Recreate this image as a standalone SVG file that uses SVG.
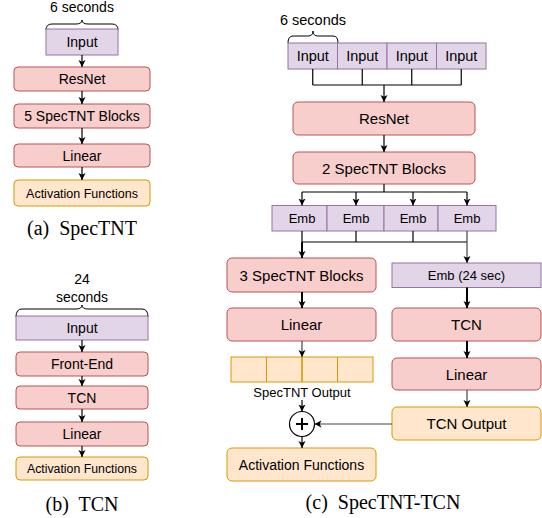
<svg xmlns="http://www.w3.org/2000/svg" width="542" height="518" viewBox="0 0 542 518">
<defs>
<marker id="ah" markerWidth="8" markerHeight="8" refX="7" refY="4" orient="auto" markerUnits="userSpaceOnUse">
<path d="M0,0.5 L7,4 L0,7.5 L1.8,4 Z" fill="#000"/>
</marker>
</defs>
<style>
.pk{fill:#f8cecc;stroke:#b85450;stroke-width:1}
.pu{fill:#e1d5e7;stroke:#9673a6;stroke-width:1}
.or{fill:#ffe6cc;stroke:#d79b00;stroke-width:1}
.t{font-family:"Liberation Sans",Arial,sans-serif;fill:#000;text-anchor:middle}
.cap{font-family:"Liberation Serif","Times New Roman",serif;font-size:20px;fill:#000;text-anchor:middle}
.ln{fill:none;stroke:#000;stroke-width:1.2}
.lb{fill:none;stroke:#000;stroke-width:2}
.lg{fill:none;stroke:#444;stroke-width:1.2}
.br{fill:none;stroke:#000;stroke-width:1}
</style>

<!-- Panel (a) -->
<g id="a-brace">
<text class="t" x="82" y="12" font-size="14">6 seconds</text>
<path class="br" d="M46,30 Q46,24 52,24 L76,24 Q82,24 82,20 Q82,24 88,24 L112,24 Q118,24 118,30"/>
</g>
<g id="a-input"><rect class="pu" x="46" y="29" width="72" height="26"/><text class="t" x="82" y="47" font-size="14">Input</text></g>
<g id="a-resnet"><rect class="pk" x="14" y="67" width="136" height="24" rx="4"/><text class="t" x="82" y="84" font-size="14">ResNet</text></g>
<g id="a-spectnt"><rect class="pk" x="14" y="104" width="136" height="24" rx="4"/><text class="t" x="82" y="121" font-size="14">5 SpecTNT Blocks</text></g>
<g id="a-linear"><rect class="pk" x="14" y="144" width="136" height="23" rx="4"/><text class="t" x="82" y="160.5" font-size="14">Linear</text></g>
<g id="a-act"><rect class="or" x="14" y="180" width="136" height="26" rx="4"/><text class="t" x="82" y="197.5" font-size="12.5">Activation Functions</text></g>
<text class="cap" x="82" y="235" xml:space="preserve">(a)  SpecTNT</text>

<!-- Panel (b) -->
<g id="b-brace">
<text class="t" x="82" y="284" font-size="14">24</text>
<text class="t" x="82" y="302" font-size="14">seconds</text>
<path class="br" d="M16,317 Q16,309 22,309 L76,309 Q82,309 82,305 Q82,309 88,309 L142,309 Q148,309 148,317"/>
</g>
<g id="b-input"><rect class="pu" x="16" y="316" width="132" height="24"/><text class="t" x="82" y="333" font-size="14">Input</text></g>
<g id="b-frontend"><rect class="pk" x="16" y="352" width="132" height="24" rx="4"/><text class="t" x="82" y="369" font-size="14">Front-End</text></g>
<g id="b-tcn"><rect class="pk" x="16" y="386" width="132" height="23" rx="4"/><text class="t" x="82" y="402.5" font-size="14">TCN</text></g>
<g id="b-linear"><rect class="pk" x="16" y="422" width="132" height="24" rx="4"/><text class="t" x="82" y="439" font-size="14">Linear</text></g>
<g id="b-act"><rect class="or" x="16" y="457" width="132" height="23" rx="4"/><text class="t" x="82" y="473" font-size="12.3">Activation Functions</text></g>
<text class="cap" x="82" y="511" xml:space="preserve">(b)  TCN</text>

<!-- Panel (c) -->
<g id="c-brace">
<text class="t" x="313" y="25" font-size="14.5">6 seconds</text>
<path class="br" d="M288,43 Q288,36 293,36 L308,36 Q313,36 313,31 Q313,36 318,36 L333,36 Q338,36 338,43"/>
</g>
<g id="c-input1"><rect class="pu" x="288" y="43" width="49.5" height="26"/><text class="t" x="312.75" y="61" font-size="14.5">Input</text></g>
<g id="c-input2"><rect class="pu" x="337.5" y="43" width="49.5" height="26"/><text class="t" x="362.25" y="61" font-size="14.5">Input</text></g>
<g id="c-input3"><rect class="pu" x="387" y="43" width="49.5" height="26"/><text class="t" x="411.75" y="61" font-size="14.5">Input</text></g>
<g id="c-input4"><rect class="pu" x="436.5" y="43" width="49.5" height="26"/><text class="t" x="461.25" y="61" font-size="14.5">Input</text></g>
<g id="c-resnet"><rect class="pk" x="293" y="102" width="182" height="33" rx="5"/><text class="t" x="384" y="124" font-size="15">ResNet</text></g>
<g id="c-spectnt2"><rect class="pk" x="293" y="152" width="182" height="32" rx="5"/><text class="t" x="384" y="173.5" font-size="15">2 SpecTNT Blocks</text></g>
<g id="c-emb1"><rect class="pu" x="272" y="205.5" width="55" height="25.5"/><text class="t" x="302" y="223" font-size="13">Emb</text></g>
<g id="c-emb2"><rect class="pu" x="327" y="205.5" width="57" height="25.5"/><text class="t" x="356" y="223" font-size="13">Emb</text></g>
<g id="c-emb3"><rect class="pu" x="384" y="205.5" width="54" height="25.5"/><text class="t" x="413" y="223" font-size="13">Emb</text></g>
<g id="c-emb4"><rect class="pu" x="438" y="205.5" width="58" height="25.5"/><text class="t" x="467" y="223" font-size="13">Emb</text></g>
<g id="c-spectnt3"><rect class="pk" x="227" y="258" width="149" height="34" rx="5"/><text class="t" x="301.5" y="280.5" font-size="15">3 SpecTNT Blocks</text></g>
<g id="c-emb24"><rect class="pu" x="392" y="263" width="149" height="24.5"/><text class="t" x="466.5" y="280" font-size="13">Emb (24 sec)</text></g>
<g id="c-linear1"><rect class="pk" x="227" y="308" width="149" height="33" rx="5"/><text class="t" x="301.5" y="330" font-size="15">Linear</text></g>
<g id="c-tcn"><rect class="pk" x="392" y="308" width="149" height="33" rx="5"/><text class="t" x="466.5" y="330" font-size="15">TCN</text></g>
<g id="c-specout">
<rect class="or" x="231" y="357" width="142" height="25"/>
<line x1="266.5" y1="357" x2="266.5" y2="382" stroke="#d79b00" stroke-width="1"/>
<line x1="302" y1="357" x2="302" y2="382" stroke="#d79b00" stroke-width="1.6"/>
<line x1="337.5" y1="357" x2="337.5" y2="382" stroke="#d79b00" stroke-width="1"/>
<text class="t" x="302" y="396.5" font-size="13">SpecTNT Output</text>
</g>
<g id="c-linear2"><rect class="pk" x="392" y="358" width="149" height="32" rx="5"/><text class="t" x="466.5" y="379.5" font-size="15">Linear</text></g>
<g id="c-tcnout"><rect class="or" x="392" y="407" width="149" height="33" rx="5"/><text class="t" x="466.5" y="429" font-size="15">TCN Output</text></g>
<g id="c-sum">
<circle cx="302" cy="424" r="12.5" fill="#fff" stroke="#000" stroke-width="1.2"/>
<path d="M296,424 H308 M302,418 V430" stroke="#000" stroke-width="2" fill="none"/>
</g>
<g id="c-act"><rect class="or" x="227" y="448" width="149" height="33" rx="5"/><text class="t" x="301.5" y="470" font-size="14">Activation Functions</text></g>
<text class="cap" x="383" y="509" xml:space="preserve">(c)  SpecTNT-TCN</text>

<!-- Connectors -->
<g id="connectors">
<!-- a -->
<line class="ln" x1="82" y1="55" x2="82" y2="67" marker-end="url(#ah)"/>
<line class="ln" x1="82" y1="91" x2="82" y2="104" marker-end="url(#ah)"/>
<line class="ln" x1="82" y1="128" x2="82" y2="144" marker-end="url(#ah)"/>
<line class="ln" x1="82" y1="167" x2="82" y2="180" marker-end="url(#ah)"/>
<!-- b -->
<line class="ln" x1="82" y1="340" x2="82" y2="352" marker-end="url(#ah)"/>
<line class="ln" x1="82" y1="376" x2="82" y2="386" marker-end="url(#ah)"/>
<line class="ln" x1="82" y1="409" x2="82" y2="422" marker-end="url(#ah)"/>
<line class="ln" x1="82" y1="446" x2="82" y2="457" marker-end="url(#ah)"/>
<!-- c -->
<path class="ln" d="M312.75,69 V85 M362.25,69 V85 M411.75,69 V85 M461.25,69 V85 M312.75,85 H461.25"/>
<line class="ln" x1="384" y1="85" x2="384" y2="102" marker-end="url(#ah)"/>
<line class="ln" x1="384" y1="135" x2="384" y2="152" marker-end="url(#ah)"/>
<path class="ln" d="M384,184 V192 M302,192 H467"/>
<line class="ln" x1="302" y1="192" x2="302" y2="205.5" marker-end="url(#ah)"/>
<line class="ln" x1="356" y1="192" x2="356" y2="205.5" marker-end="url(#ah)"/>
<line class="ln" x1="413" y1="192" x2="413" y2="205.5" marker-end="url(#ah)"/>
<line class="ln" x1="467" y1="192" x2="467" y2="205.5" marker-end="url(#ah)"/>
<path class="ln" d="M302,231 V242 M356,231 V242 M413,231 V242 M302,242 H467"/>
<line class="lb" x1="302" y1="242" x2="302" y2="258" marker-end="url(#ah)"/>
<line class="lg" x1="467" y1="231" x2="467" y2="263" marker-end="url(#ah)"/>
<line class="lb" x1="302" y1="292" x2="302" y2="308" marker-end="url(#ah)"/>
<line class="lb" x1="467" y1="287.5" x2="467" y2="308" marker-end="url(#ah)"/>
<line class="lg" x1="302" y1="341" x2="302" y2="357" marker-end="url(#ah)"/>
<line class="lb" x1="467" y1="341" x2="467" y2="358" marker-end="url(#ah)"/>
<line class="lg" x1="467" y1="390" x2="467" y2="407" marker-end="url(#ah)"/>
<line class="ln" x1="302" y1="400" x2="302" y2="411.5" marker-end="url(#ah)"/>
<line class="lg" x1="392" y1="424" x2="314.5" y2="424" marker-end="url(#ah)"/>
<line class="ln" x1="302" y1="436.5" x2="302" y2="448" marker-end="url(#ah)"/>
</g>
</svg>
